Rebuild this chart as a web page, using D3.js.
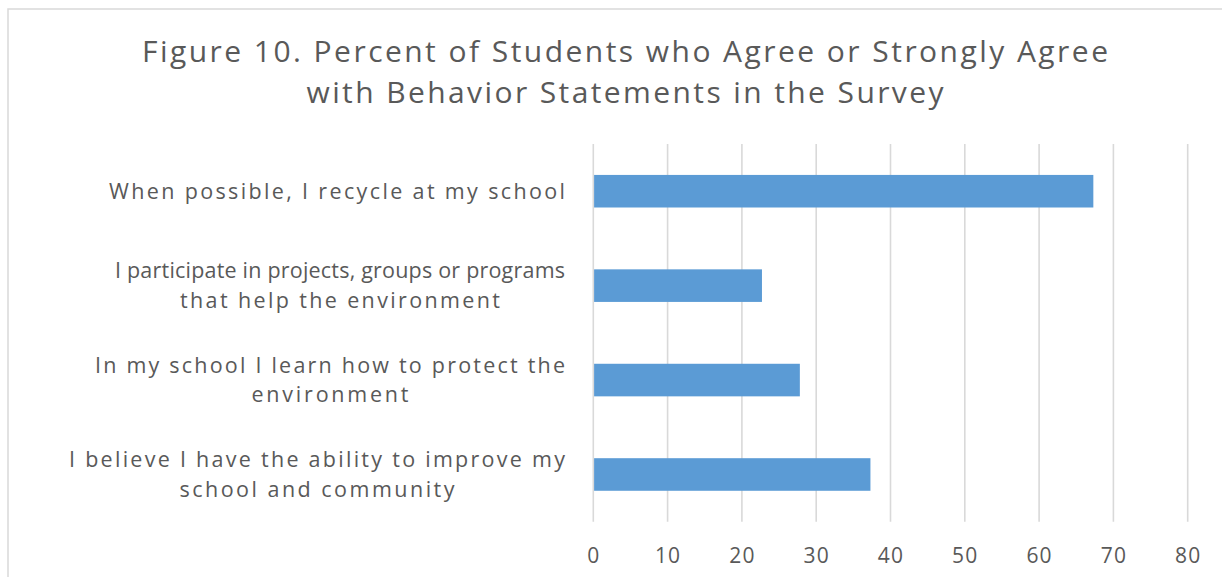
<!DOCTYPE html>
<html><head><meta charset="utf-8">
<script src="https://cdn.jsdelivr.net/npm/d3@7"></script>
<style>
html,body{margin:0;padding:0;background:#fff;overflow:hidden}
text{font-family:"Open Sans",sans-serif;fill:#595959}
</style></head>
<body><svg id="c" width="1222" height="577"></svg>
<script>
const titleLines = ["Figure 10. Percent of Students who Agree or Strongly Agree","with Behavior Statements in the Survey"];
const categories = [
  ["When possible, I recycle at my school"],
  ["I participate in projects, groups or programs","that help the environment"],
  ["In my school I learn how to protect the","environment"],
  ["I believe I have the ability to improve my","school and community"]
];
const values = [67.3, 22.7, 27.8, 37.3];
const xTicks = [0,10,20,30,40,50,60,70,80];

// layout: rendered text widths (px) to mimic the original's spacing
const titleWidths = [966, 637];
const labelWidths = [[456],[450,320],[470,157],[496,275]];

const svg = d3.select("#c");
const m = {left:593.3, right:1187.7, top:144, bottom:521.7};

svg.append("rect").attr("x",8).attr("y",9).attr("width",1300).attr("height",700)
  .attr("fill","none").attr("stroke","#d9d9d9").attr("stroke-width",1.5);

// title
svg.selectAll("text.title").data(titleLines).enter().append("text")
  .attr("class","title").attr("x",625).attr("y",(d,i)=>62+i*41)
  .attr("text-anchor","middle").style("font-size","30px")
  .attr("textLength",(d,i)=>titleWidths[i]).attr("lengthAdjust","spacing")
  .text(d=>d);

const x = d3.scaleLinear().domain([0,80]).range([m.left,m.right]);
const y = d3.scaleBand().domain(d3.range(categories.length)).range([m.top,m.bottom]).paddingInner(0.655).paddingOuter(0.3275);

// gridlines
svg.append("g").selectAll("line").data(xTicks).enter().append("line")
  .attr("x1",d=>x(d)).attr("x2",d=>x(d)).attr("y1",m.top).attr("y2",m.bottom)
  .attr("stroke","#d9d9d9").attr("stroke-width",1.6);

// bars
svg.append("g").selectAll("rect").data(values).enter().append("rect")
  .attr("x",x(0)+0.8).attr("y",(d,i)=>y(i)).attr("height",y.bandwidth())
  .attr("width",d=>x(d)-x(0)-0.8).attr("fill","#5b9bd5");

// x axis labels
const xa = d3.axisBottom(x).tickValues(xTicks).tickSize(0).tickPadding(0);
const gx = svg.append("g").attr("transform",`translate(0,${m.bottom})`).call(xa);
gx.select(".domain").remove();
gx.selectAll("text").attr("dy",0).attr("y",41).style("font-size","21px")
  .style("letter-spacing","1.2px").style("font-family","'Open Sans',sans-serif").attr("fill","#595959");

// category labels
const lh = 29.5;
categories.forEach((lines,i)=>{
  const cy = y(i)+y.bandwidth()/2;
  const n = lines.length;
  const w0 = labelWidths[i][0];
  const right = 565;
  const cx = right - w0/2;
  lines.forEach((ln,j)=>{
    svg.append("text")
      .attr("x",cx).attr("y",cy-(n-1)*lh/2+j*lh+7.5)
      .attr("text-anchor","middle").style("font-size","21.5px")
      .attr("textLength",labelWidths[i][j]).attr("lengthAdjust","spacing")
      .text(ln);
  });
});
</script></body></html>
